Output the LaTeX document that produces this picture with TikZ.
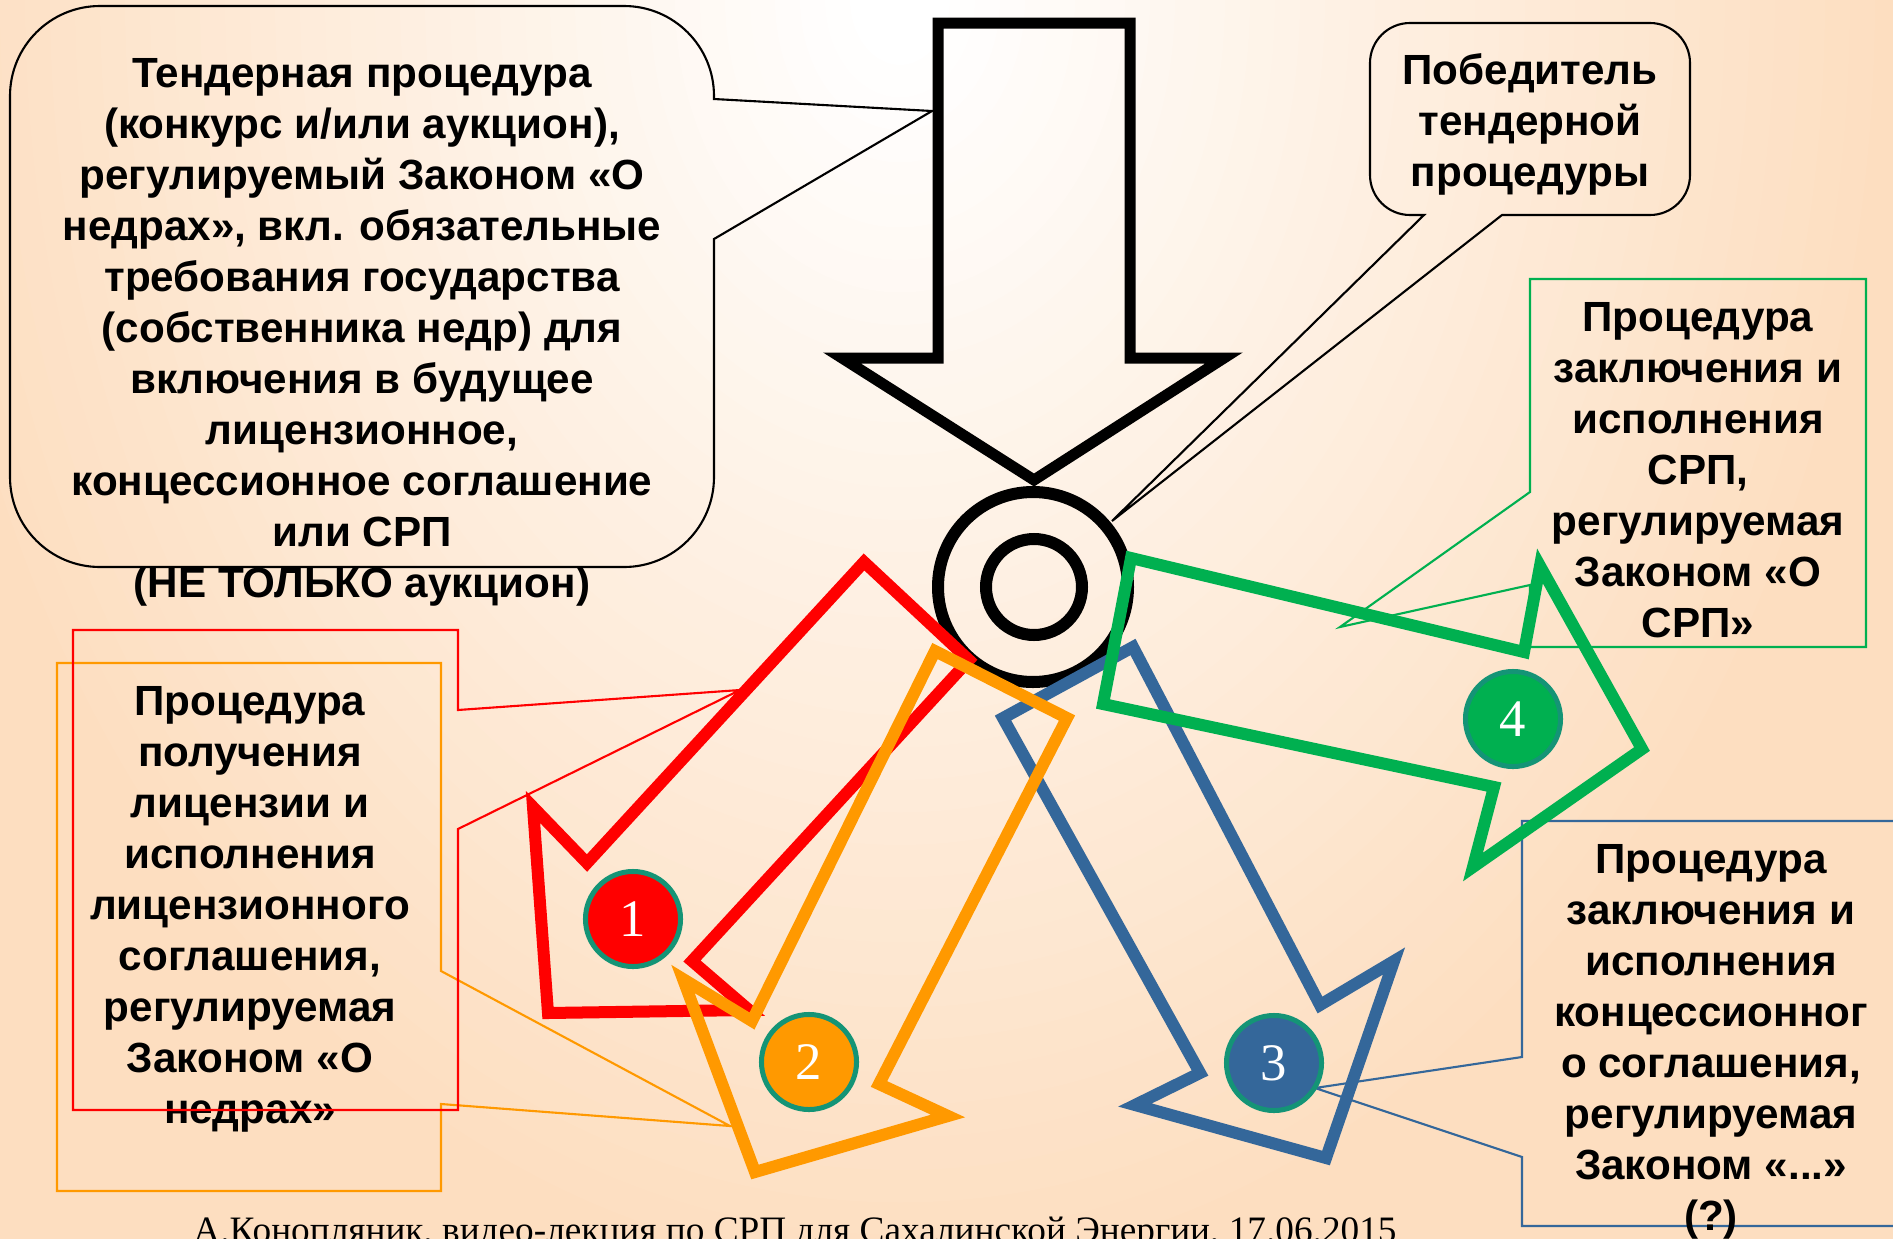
\documentclass[tikz,border=0pt]{standalone}
\usepackage{fontspec}
\setmainfont{Liberation Sans}
\newfontfamily\footfont{Liberation Serif}

\definecolor{peach}{RGB}{253,222,192}
\definecolor{srpred}{RGB}{255,0,0}
\definecolor{srporange}{RGB}{255,153,0}
\definecolor{srpblue}{RGB}{52,103,154}
\definecolor{srpgreen}{RGB}{0,176,80}
\definecolor{rimteal}{RGB}{20,148,118}

\begin{document}
\begin{tikzpicture}[x=0.01cm,y=-0.01cm,
  callout/.style={line width=0.6pt},
  route/.style={line width=0.12cm, line join=miter},
  lbl/.style={align=center, inner sep=0pt, font=\bfseries\fontsize{12}{14.5}\selectfont},
  numdisc/.style={circle, draw=rimteal, line width=0.05cm, minimum size=0.95cm, inner sep=0pt, text=white, font=\footfont\fontsize{15}{15}\selectfont}]
\useasboundingbox (0,0) rectangle (1893,1239);
\clip (0,0) rectangle (1893,1239);

% Background
\fill[peach] (0,0) rectangle (1893,1239);
\foreach \k in {40,39,...,1} {
  \pgfmathsetmacro\pk{min(100,max(0,(\k/40-0.05)/0.95*100))}
  \fill[peach!\pk!white] (900,0) ellipse [x radius=\k*25, y radius=\k*32.5];
}

% Callouts
\draw[callout] (100,6) -- (624,6) arc[start angle=-90, end angle=0, radius=90] -- (714,99) -- (932,111) -- (714,239) -- (714,477) arc[start angle=0, end angle=90, radius=90] -- (100,567) arc[start angle=90, end angle=180, radius=90] -- (10,96) arc[start angle=180, end angle=270, radius=90] -- cycle;
\draw[callout] (1410,23) -- (1650,23) arc[start angle=-90, end angle=0, radius=40] -- (1690,175) arc[start angle=0, end angle=90, radius=40] -- (1502,215) -- (1112,521) -- (1424,215) -- (1410,215) arc[start angle=90, end angle=180, radius=40] -- (1370,63) arc[start angle=180, end angle=270, radius=40] -- cycle;

% Left boxes
\coordinate (tipred) at (740,690);
\coordinate (tiporange) at (730,1126);
\draw[callout, srporange] (57,663) -- (441,663) -- (441,971) -- (tiporange) -- (441,1104) -- (441,1191) -- (57,1191) -- cycle;
\node[lbl] (licence) at (250,909) {Процедура\\получения\\лицензии и\\исполнения\\лицензионного\\соглашения,\\регулируемая\\Законом «О\\недрах»};
\draw[callout, srpred] (73,630) -- (458,630) -- (458,710) -- (tipred) -- (458,829) -- (458,1110) -- (73,1110) -- cycle;

% Right boxes
\coordinate (tipgreen) at (1340,627);
\coordinate (tipblue) at (1315,1088);
\draw[callout, srpgreen] (1530,279) -- (1866,279) -- (1866,647) -- (1530,647) -- (1530,585) -- (tipgreen) -- (1530,492) -- cycle;
\draw[callout, srpblue] (1522,821) -- (1900,821) -- (1900,1226) -- (1522,1226) -- (1522,1157) -- (tipblue) -- (1522,1057) -- cycle;

% Big arrow and target
\draw[line width=0.11cm, line join=miter] (938,23) -- (1130,23) -- (1130,358) -- (1224,358) -- (1034,480) -- (842,358) -- (938,358) -- cycle;
\draw[line width=0.12cm] (1033,587) circle (95);
\draw[line width=0.12cm] (1034,587) circle (48);

% Four routes
\draw[route, srpred] (864,562) -- (587,863) -- (533,807) -- (548,1013) -- (749,1010) -- (692,961) -- (969,660) -- cycle;
\draw[route, srpblue] (1133,647) -- (1320,1005) -- (1394,961) -- (1326,1158) -- (1135,1105) -- (1200,1073) -- (1003,718) -- cycle;
\draw[route, srporange] (935,651) -- (1067,718) -- (879,1084) -- (948,1116) -- (755,1172) -- (683,979) -- (752,1021) -- cycle;
\draw[route, srpgreen] (1131,558) -- (1524,652) -- (1540,566) -- (1642,749) -- (1473,867) -- (1494,787) -- (1103,704) -- cycle;

\node[numdisc, fill=srpred] (n1) at (633,919) {1};
\node[numdisc, fill=srporange] (n2) at (809,1062) {2};
\node[numdisc, fill=srpblue] (n3) at (1274,1063) {3};
\node[numdisc, fill=srpgreen] (n4) at (1513,719) {4};

% Texts
\node[lbl] (tender) at (362,332) {Тендерная процедура\\(конкурс и/или аукцион),\\регулируемый Законом «О\\недрах», вкл. обязательные\\требования государства\\(собственника недр) для\\включения в будущее\\лицензионное,\\концессионное соглашение\\или СРП\\(НЕ ТОЛЬКО аукцион)};
\node[lbl] (winner) at (1530,124) {Победитель\\тендерной\\процедуры};
\node[lbl] (psa) at (1698,470) {Процедура\\заключения и\\исполнения\\СРП,\\регулируемая\\Законом «О\\СРП»};
\node[lbl] (concession) at (1711,1042) {Процедура\\заключения и\\исполнения\\концессионног\\о соглашения,\\регулируемая\\Законом «...»\\(?)};
\node[anchor=base, inner sep=0pt, font=\footfont\fontsize{10.6}{10.6}\selectfont] (footer) at (795,1242) {А.Конопляник, видео-лекция по СРП для Сахалинской Энергии, 17.06.2015};
\end{tikzpicture}
\end{document}
